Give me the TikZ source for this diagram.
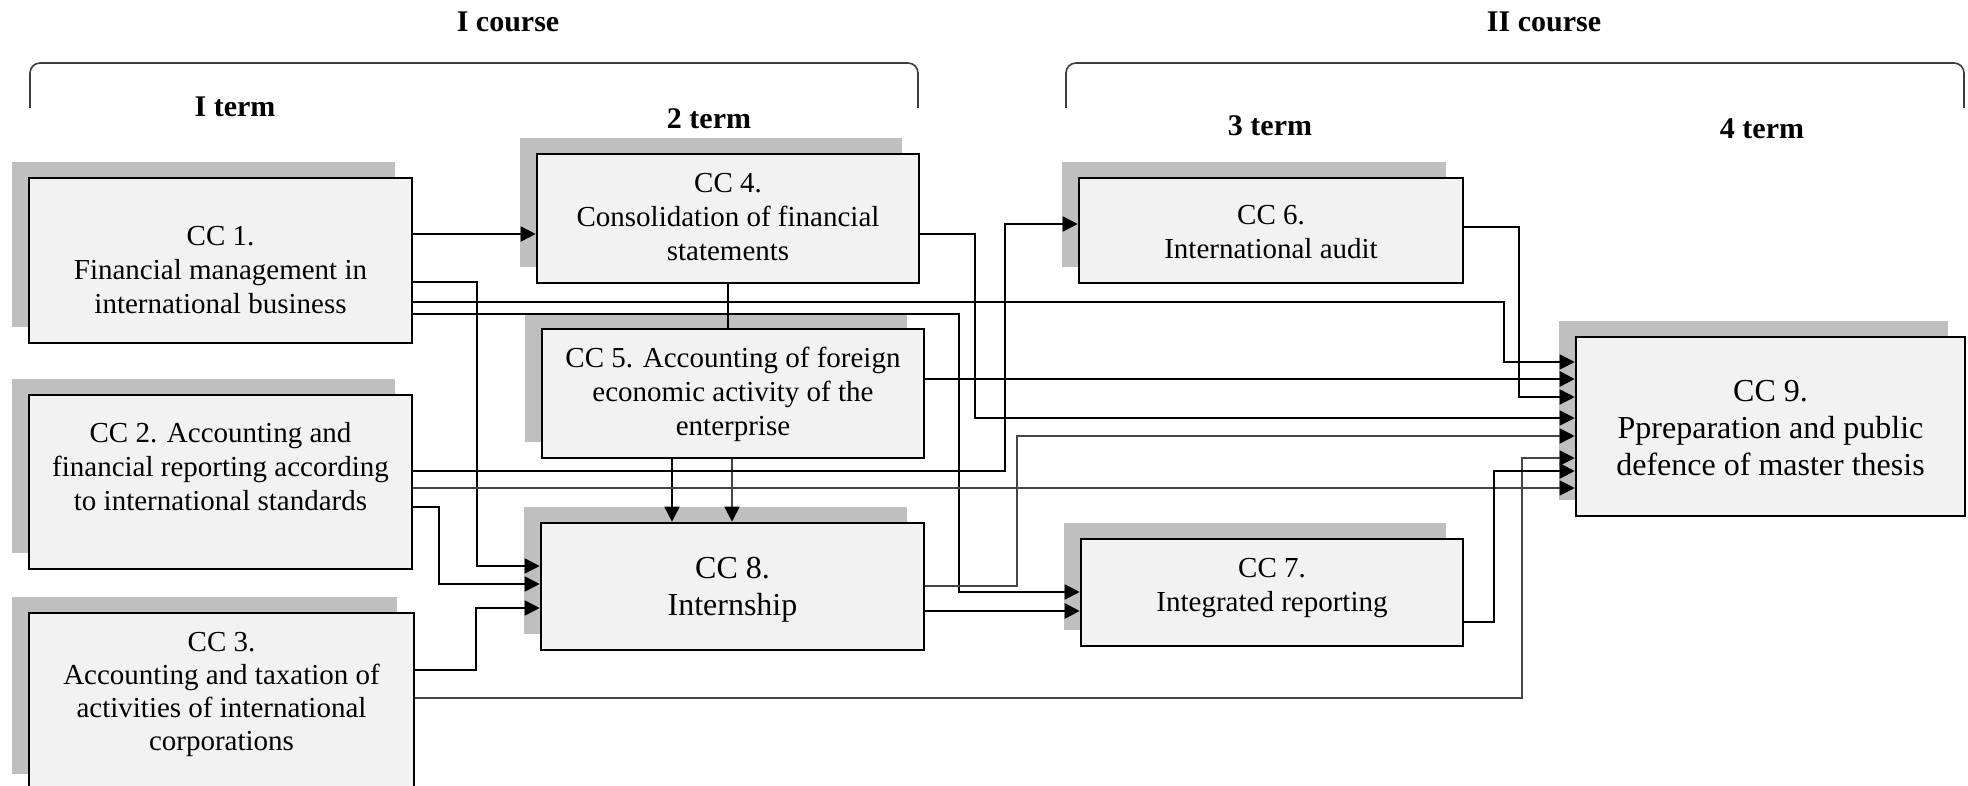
\documentclass[tikz,border=0pt]{standalone}
\usepackage{fontspec}
\setmainfont{Liberation Serif}
\usetikzlibrary{arrows.meta,shadows,calc}
\definecolor{boxfill}{RGB}{242,242,242}
\definecolor{shadowc}{RGB}{191,191,191}
\definecolor{lineg}{RGB}{70,70,70}
\definecolor{bracec}{RGB}{60,60,60}
\begin{document}
\begin{tikzpicture}[x=1pt,y=-1pt,
  box/.style={draw=black, line width=2.6pt, fill=boxfill, inner sep=0pt,
    general shadow={fill=shadowc, shadow xshift=-17pt, shadow yshift=16pt}},
  txt/.style={align=center, font=\fontsize{29}{34}\selectfont, inner sep=0pt},
  txtbig/.style={align=center, font=\fontsize{32}{37}\selectfont, inner sep=0pt},
  head/.style={font=\fontsize{30}{36}\selectfont\bfseries, inner sep=0pt},
  conn/.style={draw=black, line width=1.6pt, -{Triangle[length=15pt,width=15pt,color=black]}},
  connthick/.style={conn, line width=2.6pt},
  conngrey/.style={conn, draw=lineg},
  plainconn/.style={draw=black, line width=1.6pt},
  bracel/.style={draw=bracec, line width=1.6pt, rounded corners=10pt}
]
\useasboundingbox (0,0) rectangle (1968,786);
\clip (0,0) rectangle (1968,786);

% headers
\node[head] (h1) at (508,22) {I course};
\node[head] (h2) at (1544,22) {II course};
\node[head] (h3) at (235,107) {I term};
\node[head] (h4) at (709,119) {2 term};
\node[head] (h5) at (1270,126) {3 term};
\node[head] (h6) at (1762,129) {4 term};

% braces
\draw[bracel] (30,108) -- (30,63) -- (918,63) -- (918,108);
\draw[bracel] (1066,108) -- (1066,63) -- (1964,63) -- (1964,108);

% boxes
\node[box, minimum width=383pt, minimum height=165pt] (b1) at (220.5,260.5) {};
\node[txt] (t1) at (220.5,270) {CC 1.\\Financial management in\\international business};

\node[box, minimum width=383pt, minimum height=174pt] (b2) at (220.5,482) {};
\node[txt] (t2) at (220.5,467) {CC 2. Accounting and\\financial reporting according\\to international standards};

\node[box, minimum width=385pt, minimum height=177pt] (b3) at (221.5,701.5) {};
\node[txt, font=\fontsize{29}{33}\selectfont] (t3) at (221.5,694) {CC 3.\\Accounting and taxation of\\activities of international\\corporations};

\node[box, minimum width=382pt, minimum height=129pt] (b4) at (728,218.5) {};
\node[txt] (t4) at (728,217) {CC 4.\\Consolidation of financial\\statements};

\node[box, minimum width=382pt, minimum height=129pt] (b5) at (733,393.5) {};
\node[txt] (t5) at (733,394) {CC 5. Accounting of foreign\\economic activity of the\\enterprise};

\node[box, minimum width=384pt, minimum height=105pt] (b6) at (1271,230.5) {};
\node[txt] (t6) at (1271,232) {CC 6.\\International audit};

\node[box, minimum width=382pt, minimum height=107pt] (b7) at (1272,592.5) {};
\node[txt] (t7) at (1272,588) {CC 7.\\Integrated reporting};

\node[box, minimum width=383pt, minimum height=127pt] (b8) at (732.5,586.5) {};
\node[txtbig] (t8) at (732.5,590) {CC 8.\\Internship};

\node[box, minimum width=389pt, minimum height=179pt] (b9) at (1770.5,426.5) {};
\node[txtbig] (t9) at (1770.5,428) {CC 9.\\Ppreparation and public\\defence of master thesis};

% connectors
\draw[conn] (b1.east |- 0,234) -- (b4.west |- 0,234);
\draw[conn] (b1.east |- 0,282) -| (477,566) -- (b8.west |- 0,566);
\draw[conn] (b1.east |- 0,302) -| (1504,362) -- (b9.west |- 0,362);
\draw[conn] (b1.east |- 0,314) -| (959,592) -- (b7.west |- 0,592);
\draw[plainconn] (b4.south) -- (b4.south |- b5.north);
\draw[conn] (b4.east |- 0,234) -| (975,418) -- (b9.west |- 0,418);
\draw[connthick] (b5.east |- 0,379) -- (b9.west |- 0,379);
\draw[conn] (672,0 |- b5.south) -- (672,0 |- b8.north);
\draw[conngrey] (732,0 |- b5.south) -- (732,0 |- b8.north);
\draw[conn] (b2.east |- 0,471) -| (1005,224) -- (b6.west |- 0,224);
\draw[conngrey] (b2.east |- 0,488) -- (b9.west |- 0,488);
\draw[conn] (b2.east |- 0,507) -| (439,584) -- (b8.west |- 0,584);
\draw[conn] (b3.east |- 0,670) -| (476,608) -- (b8.west |- 0,608);
\draw[conngrey] (b3.east |- 0,698) -| (1522,458) -- (b9.west |- 0,458);
\draw[conn] (b6.east |- 0,227) -| (1519,397) -- (b9.west |- 0,397);
\draw[conngrey] (b8.east |- 0,586) -| (1017,436) -- (b9.west |- 0,436);
\draw[connthick] (b8.east |- 0,611) -- (b7.west |- 0,611);
\draw[connthick] (b7.east |- 0,622) -| (1494,471) -- (b9.west |- 0,471);
\end{tikzpicture}
\end{document}
